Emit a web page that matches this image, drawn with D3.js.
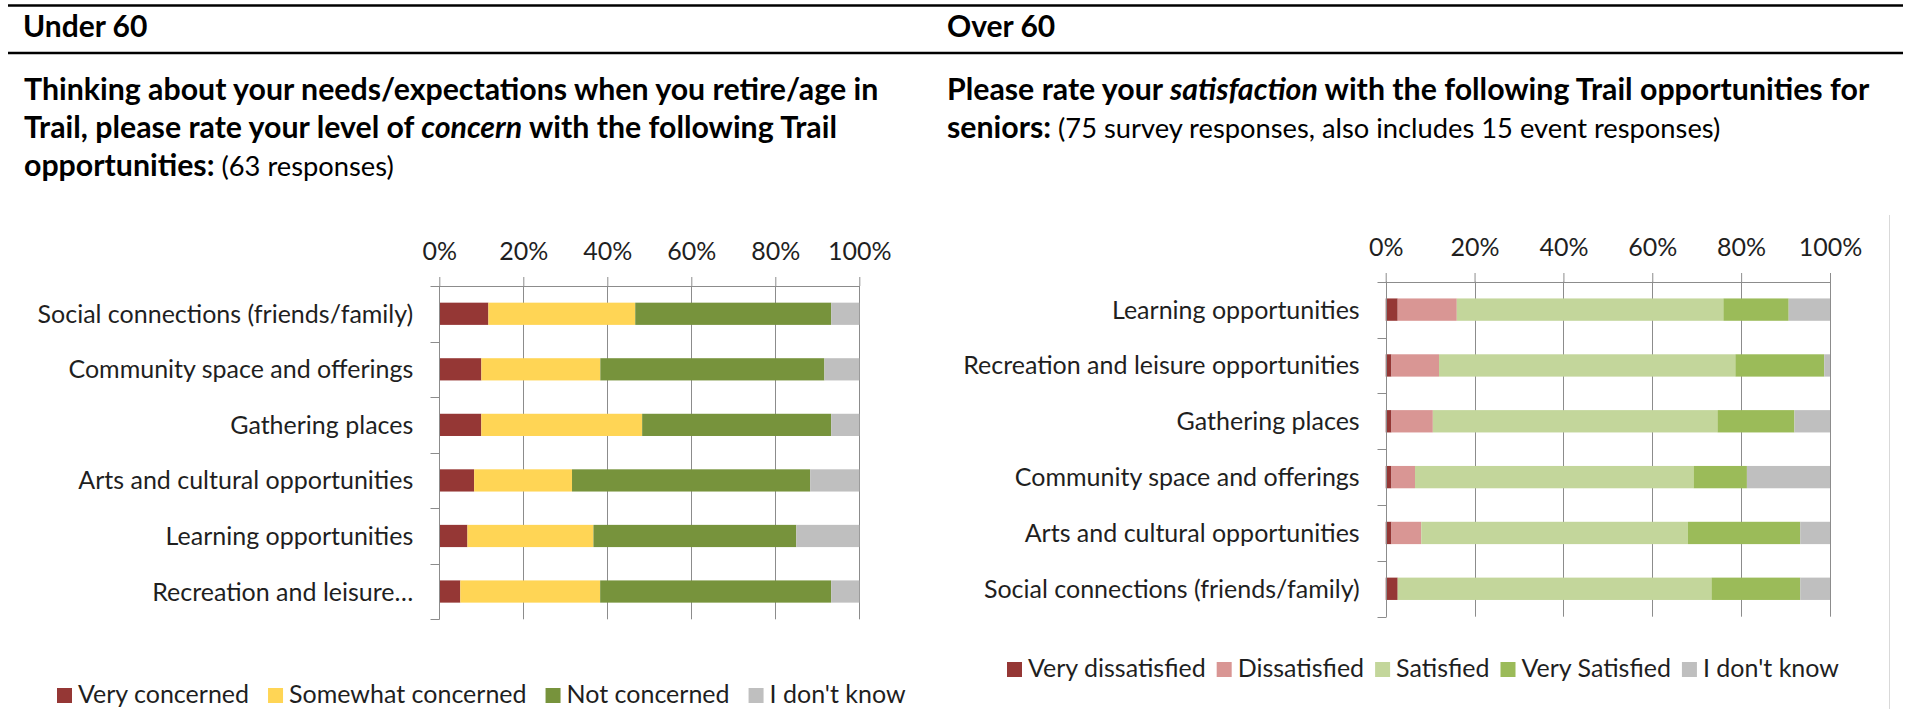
<!DOCTYPE html>
<html>
<head>
<meta charset="utf-8">
<script src="https://cdn.jsdelivr.net/npm/d3@7"></script>
<style>
  body { margin: 0; background: #fff; }
  svg text { font-family: Lato, "Open Sans", sans-serif; }
</style>
</head>
<body>
<div id="chart"></div>
<script>
// percentage axis
let pctTicks = [0, 0.2, 0.4, 0.6, 0.8, 1]

// Under 60 - level of concern (% of responses)
let under60Categories = ['Social connections (friends/family)', 'Community space and offerings', 'Gathering places',
  'Arts and cultural opportunities', 'Learning opportunities', 'Recreation and leisure\u2026']
let under60Series = ['Very concerned', 'Somewhat concerned', 'Not concerned', "I don't know"]
let veryConcerned = [11.7, 10.0, 10.0, 8.3, 6.7, 5.0]
let somewhatConcerned = [35.0, 28.3, 38.3, 23.3, 30.0, 33.3]
let notConcerned = [46.7, 53.3, 45.0, 56.7, 48.3, 55.0]
let dontKnowUnder60 = [6.7, 8.3, 6.7, 11.7, 15.0, 6.7]

// Over 60 - satisfaction (% of responses)
let over60Categories = ['Learning opportunities', 'Recreation and leisure opportunities', 'Gathering places',
  'Community space and offerings', 'Arts and cultural opportunities', 'Social connections (friends/family)']
let over60Series = ['Very dissatisfied', 'Dissatisfied', 'Satisfied', 'Very Satisfied', "I don't know"]
let veryDissatisfied = [2.7, 1.3, 1.3, 1.3, 1.3, 2.7]
let dissatisfied = [13.3, 10.7, 9.3, 5.3, 6.7, 0]
let satisfied = [60.0, 66.7, 64.0, 62.7, 60.0, 70.7]
let verySatisfied = [14.7, 20.0, 17.3, 12.0, 25.3, 20.0]
let dontKnowOver60 = [9.3, 1.3, 8.0, 18.7, 6.7, 6.7]

let width = 1906
let height = 709
let fontSize = 25
let axisGray = '#8c8c8c'
let textColor = '#1f1f1f'

d3.selectAll('svg').remove()

let svg = d3.select('div#chart')
  .append('svg')
    .attr('width', width)
    .attr('height', height)

// table rules
svg.append('g')
  .attr('stroke', 'black')
  .attr('stroke-width', 2.5)
  .selectAll('line')
  .data([5.5, 53])
  .join('line')
    .attr('x1', 8)
    .attr('x2', 1903)
    .attr('y1', d => d)
    .attr('y2', d => d)

function writeLines(x, lines) {
  let t = svg.append('g')
  lines.forEach((parts, i) => {
    let line = t.append('text')
      .attr('x', x)
      .attr('y', 99.5 + i * 38)
      .attr('font-size', 30.3)
      .attr('fill', 'black')
    parts.forEach(p => {
      line.append('tspan')
        .attr('font-weight', p.normal ? 'normal' : 'bold')
        .attr('font-style', p.italic ? 'italic' : 'normal')
        .attr('font-size', p.normal ? 27.3 : null)
        .text(p.t)
    })
  })
}

svg.append('text')
  .attr('x', 23).attr('y', 37)
  .attr('font-size', 30).attr('font-weight', 'bold')
  .text('Under 60')

svg.append('text')
  .attr('x', 947).attr('y', 37)
  .attr('font-size', 30).attr('font-weight', 'bold')
  .text('Over 60')

writeLines(24, [
  [{t: 'Thinking about your needs/expectations when you retire/age in'}],
  [{t: 'Trail, please rate your level of '}, {t: 'concern', italic: true}, {t: ' with the following Trail'}],
  [{t: 'opportunities:'}, {t: ' (63 responses)', normal: true}]
])

writeLines(947, [
  [{t: 'Please rate your '}, {t: 'satisfaction', italic: true}, {t: ' with the following Trail opportunities for'}],
  [{t: 'seniors:'}, {t: ' (75 survey responses, also includes 15 event responses)', normal: true}]
])

// chart frame edge on the right
svg.append('line')
  .attr('x1', 1889.5).attr('x2', 1889.5)
  .attr('y1', 215).attr('y2', height)
  .attr('stroke', '#d9d9d9')

function drawChart(cfg) {
  let rows = cfg.categories.map((c, i) => {
    let row = {category: c}
    cfg.series.forEach((s, j) => { row[s] = cfg.values[j][i] })
    return row
  })
  let stacked = d3.stack().keys(cfg.series).offset(d3.stackOffsetExpand)(rows)

  let x = d3.scaleLinear().domain([0, 1]).range([cfg.left, cfg.right])
  let y = d3.scaleBand().domain(cfg.categories)
    .range([cfg.top, cfg.bottom])
    .paddingInner(0.6)
    .paddingOuter(0.3)

  let g = svg.append('g')

  // gridlines
  g.append('g')
    .attr('stroke', axisGray)
    .selectAll('line')
    .data(pctTicks)
    .join('line')
      .attr('x1', d => Math.round(x(d)) + 0.5)
      .attr('x2', d => Math.round(x(d)) + 0.5)
      .attr('y1', cfg.top)
      .attr('y2', cfg.bottom)

  // top axis
  let xAxis = g.append('g')
    .attr('transform', `translate(0, ${Math.round(cfg.top)})`)
    .call(d3.axisTop(x).tickValues(pctTicks).tickFormat(d3.format('.0%'))
      .tickSize(9).tickSizeOuter(0).tickPadding(17))
  xAxis.selectAll('path, line').attr('stroke', axisGray)
  xAxis.selectAll('text')
    .attr('font-size', fontSize)
    .attr('fill', textColor)
    .attr('font-family', 'Lato, "Open Sans", sans-serif')

  // bars
  g.append('g')
    .selectAll('g')
    .data(stacked)
    .join('g')
      .attr('fill', (d, i) => cfg.colors[i])
    .selectAll('rect')
    .data(d => d)
    .join('rect')
      .attr('x', d => x(d[0]))
      .attr('width', d => x(d[1]) - x(d[0]))
      .attr('y', d => y(d.data.category))
      .attr('height', y.bandwidth())

  // category axis with tick marks between categories
  let boundaries = d3.range(cfg.categories.length + 1).map(i => cfg.top + i * y.step())
  let x0 = Math.round(x(0)) + 0.5
  g.append('line')
    .attr('x1', x0).attr('x2', x0)
    .attr('y1', cfg.top).attr('y2', cfg.bottom)
    .attr('stroke', axisGray)
  g.append('g')
    .attr('stroke', axisGray)
    .selectAll('line')
    .data(boundaries)
    .join('line')
      .attr('x1', x0 - 9)
      .attr('x2', x0)
      .attr('y1', d => Math.round(d) + 0.5)
      .attr('y2', d => Math.round(d) + 0.5)

  g.append('g')
    .selectAll('text')
    .data(cfg.categories)
    .join('text')
      .attr('x', cfg.left - 26)
      .attr('y', d => y(d) + y.bandwidth() / 2)
      .attr('dy', '0.36em')
      .attr('text-anchor', 'end')
      .attr('font-size', fontSize)
      .attr('fill', textColor)
      .text(d => d)

  // legend
  let legend = g.append('g')
    .attr('transform', `translate(${cfg.legendX}, ${cfg.legendY})`)
  let lx = 0
  cfg.series.forEach((s, i) => {
    legend.append('rect')
      .attr('x', lx).attr('y', -15)
      .attr('width', 15).attr('height', 15)
      .attr('fill', cfg.colors[i])
    let t = legend.append('text')
      .attr('x', lx + 21)
      .attr('y', 0)
      .attr('font-size', fontSize)
      .attr('fill', textColor)
      .text(s)
    lx += 21 + t.node().getComputedTextLength() + cfg.legendGap
  })
}

drawChart({
  categories: under60Categories,
  series: under60Series,
  values: [veryConcerned, somewhatConcerned, notConcerned, dontKnowUnder60],
  colors: ['#953735', '#ffd555', '#77933c', '#bfbfbf'],
  left: 439.3, right: 859.3, top: 286, bottom: 619.3,
  legendX: 57, legendY: 703, legendGap: 19
})

drawChart({
  categories: over60Categories,
  series: over60Series,
  values: [veryDissatisfied, dissatisfied, satisfied, verySatisfied, dontKnowOver60],
  colors: ['#953735', '#d99694', '#c3d69b', '#9bbb59', '#bfbfbf'],
  left: 1385.7, right: 1830, top: 281.7, bottom: 616.7,
  legendX: 1007, legendY: 677, legendGap: 11
})
</script>
</body>
</html>
